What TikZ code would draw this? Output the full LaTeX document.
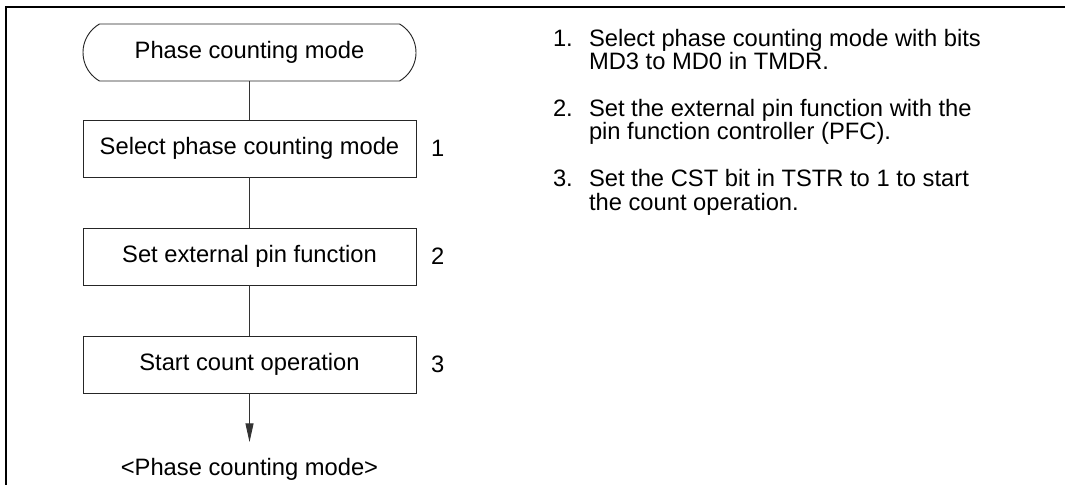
\documentclass[tikz,border=0pt]{standalone}
\usepackage{fontspec}
\setmainfont{Liberation Sans}
\usetikzlibrary{shapes.misc,arrows.meta,positioning}
\newcommand\flowfont{\fontsize{17.8pt}{17.5pt}\selectfont}
\tikzset{
  fstep/.style={rectangle, draw=black!85, line width=0.7pt,
                minimum width=249.75pt, minimum height=42.75pt,
                inner sep=0pt, outer sep=0pt, font=\flowfont},
  fterm/.style={fstep, rounded rectangle, rounded rectangle arc length=120},
  fnum/.style={inner sep=0pt, outer sep=0pt, font=\flowfont},
  fline/.style={draw=black!80, line width=0.7pt},
  farr/.style={fline, -{Triangle[length=14pt, width=6pt]}},
  fnote/.style={inner sep=0pt, outer sep=0pt, font=\flowfont, anchor=base west}
}

\begin{document}
\begin{tikzpicture}[x=0.75pt, y=-0.75pt, node distance=38.25pt and 11.25pt]
\useasboundingbox (0,0) rectangle (1065,485);
% frame
\draw[line width=1.5pt] (1065,7) -- (6,7) -- (6,485);
% flow
\node[fterm] (start) at (249.5,52.5) {Phase counting mode};
\node[fstep, below=29.25pt of start] (sel) {Select phase counting mode};
\node[fstep, below=of sel] (pin) {Set external pin function};
\node[fstep, below=of pin] (cnt) {Start count operation};
\node[fnum, right=of sel] (n1) {1};
\node[fnum, right=of pin] (n2) {2};
\node[fnum, right=of cnt] (n3) {3};
\node[fnum, below=49pt of cnt, anchor=north] (done) {<Phase counting mode>};
\draw[fline] (start) -- (sel);
\draw[fline] (sel) -- (pin);
\draw[fline] (pin) -- (cnt);
\draw[farr] (cnt.south) -- ([yshift=12.2pt]done.north);
% notes
\node[fnote] (k1) at (553,46.7) {1.};
\node[fnote] (t1a) at (589,46.7) {Select phase counting mode with bits};
\node[fnote] (t1b) at (589,70) {MD3 to MD0 in TMDR.};
\node[fnote] (k2) at (553,116.7) {2.};
\node[fnote] (t2a) at (589,116.7) {Set the external pin function with the};
\node[fnote] (t2b) at (589,140) {pin function controller (PFC).};
\node[fnote] (k3) at (553,186.7) {3.};
\node[fnote] (t3a) at (589,186.7) {Set the CST bit in TSTR to 1 to start};
\node[fnote] (t3b) at (589,210) {the count operation.};
\end{tikzpicture}
\end{document}
